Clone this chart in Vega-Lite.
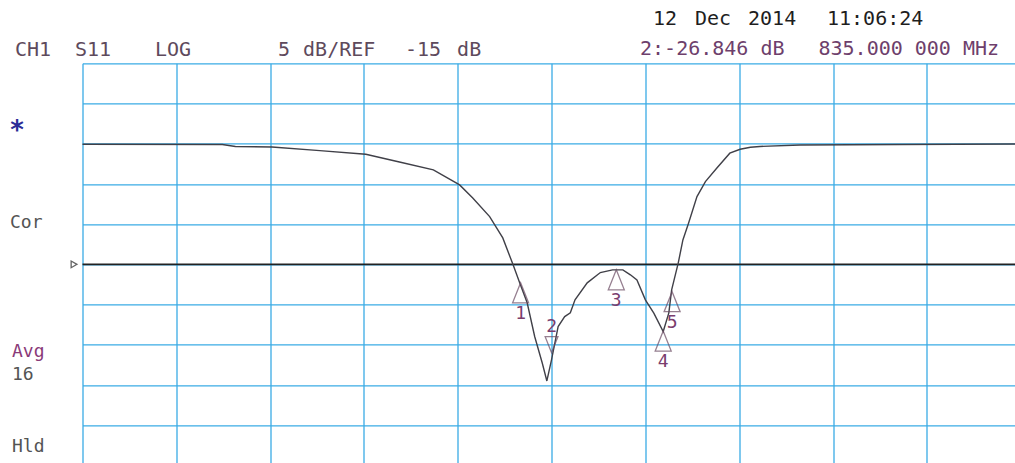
{
  "$schema": "https://vega.github.io/schema/vega-lite/v6.json",
  "autosize": {"type": "none"},
  "padding": {"left": 82.5, "top": 63.3, "right": 0, "bottom": 0},
  "width": 932.5,
  "height": 399.7,
  "background": "white",
  "config": {"view": {"stroke": null}},
  "datasets": {
    "trace": [
      {"f": 785.0, "db": -0.06}, {"f": 799.9, "db": -0.09}, {"f": 801.3, "db": -0.34},
      {"f": 805.2, "db": -0.40}, {"f": 810.3, "db": -0.86}, {"f": 815.2, "db": -1.31},
      {"f": 818.9, "db": -2.30}, {"f": 822.4, "db": -3.26}, {"f": 825.2, "db": -5.12},
      {"f": 826.6, "db": -6.74}, {"f": 828.4, "db": -9.06}, {"f": 829.8, "db": -11.71},
      {"f": 830.9, "db": -15.06}, {"f": 831.6, "db": -17.30}, {"f": 832.4, "db": -19.78},
      {"f": 833.2, "db": -23.97}, {"f": 834.0, "db": -27.24}, {"f": 834.5, "db": -29.50},
      {"f": 835.0, "db": -26.85}, {"f": 835.7, "db": -22.73}, {"f": 836.4, "db": -21.49},
      {"f": 837.0, "db": -21.03}, {"f": 837.5, "db": -19.41}, {"f": 838.8, "db": -17.30},
      {"f": 840.2, "db": -16.02}, {"f": 841.5, "db": -15.68}, {"f": 842.6, "db": -15.68},
      {"f": 843.4, "db": -16.30}, {"f": 844.1, "db": -16.93}, {"f": 845.0, "db": -19.41},
      {"f": 845.9, "db": -21.06}, {"f": 846.9, "db": -23.35}, {"f": 847.5, "db": -21.03},
      {"f": 847.8, "db": -18.17}, {"f": 848.5, "db": -14.85}, {"f": 849.0, "db": -11.96},
      {"f": 849.6, "db": -9.88}, {"f": 850.5, "db": -6.58}, {"f": 851.4, "db": -4.71},
      {"f": 852.6, "db": -3.05}, {"f": 854.0, "db": -1.18}, {"f": 855.1, "db": -0.69},
      {"f": 856.2, "db": -0.44}, {"f": 857.2, "db": -0.34}, {"f": 861.5, "db": -0.15},
      {"f": 872.1, "db": -0.09}, {"f": 884.4, "db": -0.03}
    ],
    "markers": [
      {"f": 831.7, "db": -17.3, "m": "1"},
      {"f": 841.9, "db": -15.68, "m": "3"},
      {"f": 846.9, "db": -23.3, "m": "4"},
      {"f": 847.85, "db": -18.4, "m": "5"}
    ],
    "active": [
      {"f": 835.0, "db": -26.846, "m": "2"}
    ],
    "ref": [
      {"f": 784.1, "db": -15}
    ],
    "header": [
      {"f": 777.80, "db": 10.91, "t": "CH1", "g": "info"},
      {"f": 784.20, "db": 10.91, "t": "S11", "g": "info"},
      {"f": 792.73, "db": 10.91, "t": "LOG", "g": "info"},
      {"f": 805.84, "db": 10.91, "t": "5", "g": "info"},
      {"f": 808.51, "db": 10.91, "t": "dB/REF", "g": "info"},
      {"f": 819.38, "db": 10.91, "t": "-15", "g": "info"},
      {"f": 824.93, "db": 10.91, "t": "dB", "g": "info"},
      {"f": 845.82, "db": 14.76, "t": "12", "g": "date"},
      {"f": 850.29, "db": 14.76, "t": "Dec", "g": "date"},
      {"f": 855.94, "db": 14.76, "t": "2014", "g": "date"},
      {"f": 864.36, "db": 14.76, "t": "11:06:24", "g": "date"},
      {"f": 844.43, "db": 11.03, "t": "2:-26.846 dB", "g": "readout"},
      {"f": 863.45, "db": 11.03, "t": "835.000 000 MHz", "g": "readout"}
    ],
    "side": [
      {"f": 777.27, "db": -10.46, "t": "Cor", "g": "side"},
      {"f": 777.48, "db": -26.50, "t": "Avg", "g": "avg"},
      {"f": 777.48, "db": -29.35, "t": "16", "g": "side"},
      {"f": 777.48, "db": -38.30, "t": "Hld", "g": "side"}
    ],
    "star": [
      {"f": 778.02, "db": 0.55, "t": "*"}
    ]
  },
  "encoding": {
    "x": {
      "field": "f", "type": "quantitative",
      "scale": {"domain": [785, 884.4], "nice": false, "zero": false},
      "axis": {
        "values": [785, 795, 805, 815, 825, 835, 845, 855, 865, 875],
        "grid": true, "gridColor": "#3aabe5", "gridWidth": 1.3, "gridOpacity": 1,
        "labels": false, "ticks": false, "domain": false, "title": null
      }
    },
    "y": {
      "field": "db", "type": "quantitative",
      "scale": {"domain": [-39.7, 10], "nice": false, "zero": false},
      "axis": {
        "values": [10, 5, 0, -5, -10, -15, -20, -25, -30, -35],
        "grid": true, "gridColor": "#3aabe5", "gridWidth": 1.3, "gridOpacity": 1,
        "labels": false, "ticks": false, "domain": false, "title": null
      }
    }
  },
  "layer": [
    {
      "data": {"name": "ref"},
      "mark": {"type": "rule", "color": "#222222", "strokeWidth": 1.6},
      "encoding": {"x": null}
    },
    {
      "data": {"name": "ref"},
      "mark": {"type": "point", "shape": "triangle-right", "filled": false, "stroke": "#222222", "strokeWidth": 1.3, "size": 45}
    },
    {
      "data": {"name": "trace"},
      "mark": {"type": "line", "color": "#404048", "strokeWidth": 1.4, "interpolate": "linear"}
    },
    {
      "data": {"name": "markers"},
      "mark": {"type": "point", "shape": "M0,0L0.8,2L-0.8,2Z", "size": 400, "filled": false, "stroke": "#6a4a62", "strokeWidth": 1.3}
    },
    {
      "data": {"name": "markers"},
      "mark": {"type": "text", "font": "DejaVu Sans Mono", "fontSize": 18, "color": "#7a3d6e", "baseline": "middle", "align": "center", "dy": 31},
      "encoding": {"text": {"field": "m"}}
    },
    {
      "data": {"name": "active"},
      "mark": {"type": "point", "shape": "M0,0L0.8,-2L-0.8,-2Z", "size": 256, "filled": false, "stroke": "#6a4a62", "strokeWidth": 1.3, "yOffset": -7}
    },
    {
      "data": {"name": "active"},
      "mark": {"type": "text", "font": "DejaVu Sans Mono", "fontSize": 18, "color": "#7a3d6e", "baseline": "middle", "align": "center", "dy": -33},
      "encoding": {"text": {"field": "m"}}
    },
    {
      "data": {"name": "header"},
      "mark": {"type": "text", "font": "DejaVu Sans Mono", "fontSize": 20, "align": "left", "baseline": "alphabetic"},
      "encoding": {
        "text": {"field": "t"},
        "color": {
          "field": "g", "type": "nominal", "legend": null,
          "scale": {
            "domain": ["info", "date", "readout", "side", "avg"],
            "range": ["#5e4a5c", "#1e1e1e", "#6e3f6c", "#545454", "#8a3a78"]
          }
        }
      }
    },
    {
      "data": {"name": "side"},
      "mark": {"type": "text", "font": "DejaVu Sans Mono", "fontSize": 18, "align": "left", "baseline": "alphabetic"},
      "encoding": {
        "text": {"field": "t"},
        "color": {
          "field": "g", "type": "nominal", "legend": null,
          "scale": {
            "domain": ["info", "date", "readout", "side", "avg"],
            "range": ["#5e4a5c", "#1e1e1e", "#6e3f6c", "#545454", "#8a3a78"]
          }
        }
      }
    },
    {
      "data": {"name": "star"},
      "mark": {"type": "text", "font": "DejaVu Sans Mono", "fontSize": 26, "fontWeight": "bold", "color": "#2c2c96", "align": "center", "baseline": "alphabetic"},
      "encoding": {"text": {"field": "t"}}
    }
  ]
}
